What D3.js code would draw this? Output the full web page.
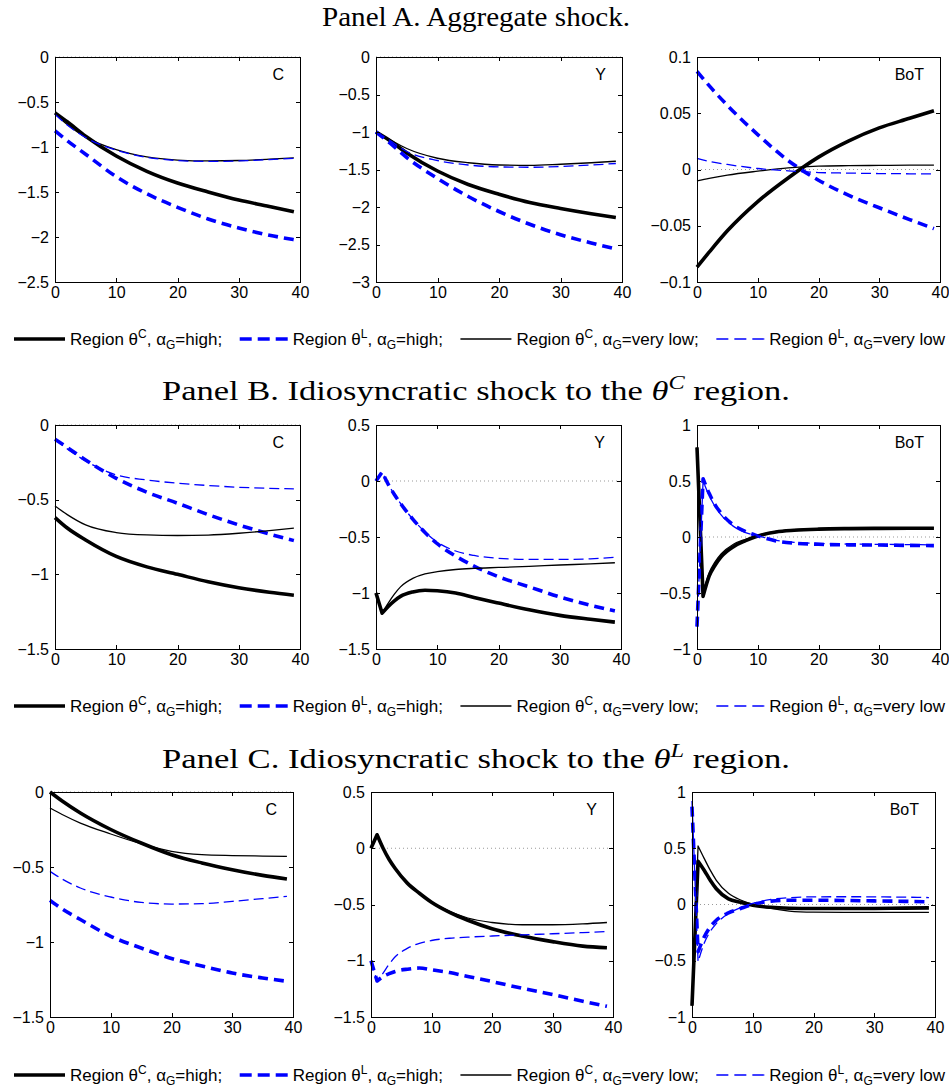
<!DOCTYPE html>
<html><head><meta charset="utf-8">
<script src="https://cdn.jsdelivr.net/npm/d3@7/dist/d3.min.js"></script>
<style>body{margin:0;background:#fff}svg{display:block}</style>
</head><body>
<svg id="chart" width="949" height="1089"></svg>
<script>
// ---------------- DATA ----------------
const tSmooth = [0,2,5,10,15,20,25,30,35,39];
const tSpike  = [0,1,2,3,4,6,8,10,13,16,20,25,30,35,39];
const xTicks = [0,10,20,30,40];
const variables = ["C","Y","BoT"];
const seriesLabels = [
  {region:"C", alpha:"high;"},
  {region:"L", alpha:"high;"},
  {region:"C", alpha:"very low;"},
  {region:"L", alpha:"very low"}
];
const panelTitles = [
  {text:"Panel A. Aggregate shock.", theta:null},
  {text:"Panel B. Idiosyncratic shock to the ", theta:"C", tail:" region."},
  {text:"Panel C. Idiosyncratic shock to the ", theta:"L", tail:" region."}
];
// y tick values per panel / variable
const yTicksA = [[-2.5,-2,-1.5,-1,-0.5,0],[-3,-2.5,-2,-1.5,-1,-0.5,0],[-0.1,-0.05,0,0.05,0.1]];
const yTicksB = [[-1.5,-1,-0.5,0],[-1.5,-1,-0.5,0,0.5],[-1,-0.5,0,0.5,1]];
const yTicksC = [[-1.5,-1,-0.5,0],[-1.5,-1,-0.5,0,0.5],[-1,-0.5,0,0.5,1]];

// Panel A (time grid tSmooth)
const aC_thickC = [-0.62,-0.72,-0.88,-1.10,-1.27,-1.40,-1.50,-1.59,-1.66,-1.72];
const aC_thickL = [-0.82,-0.93,-1.08,-1.33,-1.52,-1.67,-1.80,-1.90,-1.98,-2.03];
const aC_thinC  = [-0.63,-0.75,-0.89,-1.03,-1.11,-1.145,-1.155,-1.15,-1.135,-1.12];
const aC_thinL  = [-0.635,-0.755,-0.895,-1.035,-1.115,-1.15,-1.16,-1.155,-1.14,-1.125];

const aY_thickC = [-1.0,-1.10,-1.28,-1.52,-1.70,-1.83,-1.94,-2.02,-2.09,-2.14];
const aY_thickL = [-1.0,-1.13,-1.34,-1.62,-1.86,-2.06,-2.23,-2.37,-2.48,-2.56];
const aY_thinC  = [-1.0,-1.09,-1.22,-1.35,-1.41,-1.44,-1.445,-1.43,-1.41,-1.39];
const aY_thinL  = [-1.0,-1.10,-1.26,-1.38,-1.44,-1.465,-1.47,-1.46,-1.44,-1.42];

const aB_thickC = [-0.0868,-0.0735,-0.0545,-0.0285,-0.0075,0.011,0.0255,0.037,0.0455,0.0523];
const aB_thickL = [0.0872,0.0745,0.057,0.031,0.008,-0.0095,-0.023,-0.034,-0.0445,-0.0526];
const aB_thinC  = [-0.0101,-0.0078,-0.005,-0.0015,0.0015,0.003,0.0034,0.0036,0.0038,0.0039];
const aB_thinL  = [0.0098,0.0072,0.0045,0.0009,-0.0012,-0.0027,-0.0032,-0.0036,-0.0038,-0.0039];

// Panel B
const bC_thickC = [-0.62,-0.69,-0.77,-0.88,-0.95,-1.00,-1.05,-1.09,-1.12,-1.14];
const bC_thickL = [-0.096,-0.15,-0.234,-0.357,-0.45,-0.524,-0.60,-0.669,-0.73,-0.774];
const bC_thinC  = [-0.542,-0.60,-0.669,-0.72,-0.736,-0.74,-0.737,-0.725,-0.707,-0.69];
const bC_thinL  = [-0.096,-0.16,-0.24,-0.334,-0.368,-0.39,-0.405,-0.417,-0.424,-0.428];

const bY_thickC = [-1.0,-1.18,-1.12,-1.07,-1.03,-0.99,-0.975,-0.98,-1.00,-1.04,-1.09,-1.15,-1.20,-1.235,-1.26];
const bY_thickL = [0,0.08,-0.03,-0.12,-0.20,-0.34,-0.46,-0.56,-0.67,-0.76,-0.855,-0.945,-1.035,-1.11,-1.16];
const bY_thinC  = [-1.0,-1.18,-1.09,-1.01,-0.945,-0.87,-0.83,-0.81,-0.79,-0.78,-0.772,-0.762,-0.75,-0.74,-0.73];
const bY_thinL  = [0,0.08,-0.03,-0.12,-0.20,-0.34,-0.455,-0.545,-0.625,-0.665,-0.69,-0.70,-0.70,-0.695,-0.68];

const bB_thickC = [0.80,-0.53,-0.35,-0.25,-0.175,-0.086,-0.033,0.009,0.045,0.06,0.07,0.075,0.077,0.078,0.078];
const bB_thickL = [-0.80,0.52,0.39,0.285,0.21,0.107,0.048,0.01,-0.035,-0.055,-0.065,-0.07,-0.072,-0.075,-0.077];
const bB_thinC  = [0.80,-0.50,-0.32,-0.22,-0.15,-0.065,-0.02,0.015,0.05,0.065,0.075,0.079,0.08,0.081,0.081];
const bB_thinL  = [-0.80,0.50,0.37,0.27,0.195,0.095,0.04,0.012,-0.03,-0.048,-0.058,-0.063,-0.066,-0.068,-0.07];

// Panel C
const cC_thickC = [0,-0.06,-0.14,-0.25,-0.34,-0.418,-0.473,-0.518,-0.556,-0.58];
const cC_thickL = [-0.722,-0.78,-0.85,-0.962,-1.04,-1.11,-1.16,-1.207,-1.24,-1.262];
const cC_thinC  = [-0.107,-0.15,-0.207,-0.28,-0.345,-0.396,-0.418,-0.424,-0.427,-0.429];
const cC_thinL  = [-0.529,-0.58,-0.64,-0.70,-0.736,-0.747,-0.744,-0.729,-0.711,-0.696];

const cY_thickC = [0,0.12,0.0,-0.10,-0.18,-0.31,-0.40,-0.48,-0.57,-0.64,-0.715,-0.78,-0.83,-0.87,-0.885];
const cY_thickL = [-1.0,-1.18,-1.14,-1.115,-1.095,-1.075,-1.065,-1.08,-1.105,-1.14,-1.185,-1.245,-1.30,-1.36,-1.405];
const cY_thinC  = [0,0.12,0.0,-0.10,-0.175,-0.305,-0.395,-0.475,-0.56,-0.62,-0.66,-0.68,-0.68,-0.672,-0.66];
const cY_thinL  = [-1.0,-1.18,-1.11,-1.03,-0.965,-0.89,-0.845,-0.82,-0.80,-0.79,-0.78,-0.77,-0.76,-0.75,-0.74];

const cB_thickC = [-0.9,0.385,0.305,0.215,0.14,0.05,0.02,-0.006,-0.025,-0.033,-0.036,-0.036,-0.035,-0.032,-0.03];
const cB_thickL = [0.87,-0.42,-0.29,-0.2,-0.14,-0.075,-0.036,0,0.03,0.038,0.038,0.036,0.032,0.028,0.024];
const cB_thinC  = [-0.9,0.52,0.41,0.305,0.215,0.10,0.04,0.003,-0.035,-0.058,-0.068,-0.07,-0.07,-0.07,-0.07];
const cB_thinL  = [0.92,-0.51,-0.345,-0.24,-0.17,-0.08,-0.027,0.009,0.045,0.06,0.068,0.069,0.068,0.065,0.062];

// ---------------- LAYOUT / STYLE ----------------
const styles = [
  {color:"#000", width:3.6, dash:null, legLen:51},
  {color:"#0000ff", width:3.6, dash:"12,6", legLen:48},
  {color:"#000", width:1.3, dash:null, legLen:51},
  {color:"#0000ff", width:1.3, dash:"12,6", legLen:48}
];
const lineDash = ["", "10,6", "", "10,5"];
const panels = [
  {title:panelTitles[0], titleY:26, titleSize:27, titleLen:308, top:57, bottom:282, cols:[[55,300],[376,622],[697,940]], legendY:339,
   yTicks:yTicksA, t:[tSmooth,tSmooth,tSmooth],
   data:[[aC_thickC,aC_thickL,aC_thinC,aC_thinL],[aY_thickC,aY_thickL,aY_thinC,aY_thinL],[aB_thickC,aB_thickL,aB_thinC,aB_thinL]]},
  {title:panelTitles[1], titleY:400, titleSize:27, titleLen:628, top:425, bottom:649, cols:[[55,300],[376,621],[697,940]], legendY:706,
   yTicks:yTicksB, t:[tSmooth,tSpike,tSpike],
   data:[[bC_thickC,bC_thickL,bC_thinC,bC_thinL],[bY_thickC,bY_thickL,bY_thinC,bY_thinL],[bB_thickC,bB_thickL,bB_thinC,bB_thinL]]},
  {title:panelTitles[2], titleY:768, titleSize:27, titleLen:628, top:792, bottom:1017, cols:[[50,293],[371,613],[692,935]], legendY:1075,
   yTicks:yTicksC, t:[tSmooth,tSpike,tSpike],
   data:[[cC_thickC,cC_thickL,cC_thinC,cC_thinL],[cY_thickC,cY_thickL,cY_thinC,cY_thinL],[cB_thickC,cB_thickL,cB_thinC,cB_thinL]]}
];

const svg = d3.select("#chart");
const SANS = "'Liberation Sans', Arial, Helvetica, sans-serif";
const SERIF = "'Liberation Serif', 'Times New Roman', serif";
const fmt = v => String(+v.toFixed(3)).replace("-", "\u2212");

panels.forEach(p => {
  // title
  const tt = svg.append("text").attr("x", 476).attr("y", p.titleY)
    .attr("text-anchor","middle").attr("font-family", SERIF).attr("font-size", p.titleSize).attr("fill","#000")
    .attr("textLength", p.titleLen).attr("lengthAdjust","spacingAndGlyphs");
  tt.append("tspan").text(p.title.text);
  if (p.title.theta) {
    tt.append("tspan").attr("font-style","italic").text("\u03b8");
    tt.append("tspan").attr("font-style","italic").attr("font-size",Math.round(p.titleSize*0.7)).attr("dy",-11).text(p.title.theta);
    tt.append("tspan").attr("dy",11).text(p.title.tail);
  }

  p.cols.forEach((c, j) => {
    const ticks = p.yTicks[j];
    const x = d3.scaleLinear().domain([0,40]).range([c[0], c[1]]);
    const y = d3.scaleLinear().domain([ticks[0], ticks[ticks.length-1]]).range([p.bottom, p.top]);
    const g = svg.append("g");

    // zero dotted line
    g.append("line").attr("x1", x(0)).attr("x2", x(40)).attr("y1", y(0)).attr("y2", y(0))
      .attr("stroke","#999").attr("stroke-width",1).attr("stroke-dasharray","1,3");

    // series
    const tArr = p.t[j];
    const spike = tArr[1] === 1;
    p.data[j].forEach((vals, k) => {
      const s = styles[k];
      let d;
      if (spike) {
        // straight jump from t=0 to t=1, smooth afterwards
        const rest = d3.line().x((v,i)=>x(tArr[i+1])).y(v=>y(v)).curve(d3.curveMonotoneX)(vals.slice(1));
        d = `M${x(tArr[0])},${y(vals[0])}L` + rest.slice(1);
      } else {
        d = d3.line().x((v,i)=>x(tArr[i])).y(v=>y(v)).curve(d3.curveMonotoneX)(vals);
      }
      g.append("path").attr("d", d).attr("fill","none")
        .attr("stroke", s.color).attr("stroke-width", s.width)
        .attr("stroke-dasharray", lineDash[k] || null).attr("stroke-linejoin","round");
    });

    // axes (MATLAB style, inward ticks on all sides)
    const axB = d3.axisBottom(x).tickValues(xTicks).tickSizeInner(-4).tickSizeOuter(0).tickPadding(5).tickFormat(fmt);
    const axT = d3.axisTop(x).tickValues(xTicks).tickSizeInner(-4).tickSizeOuter(0).tickFormat("");
    const axL = d3.axisLeft(y).tickValues(ticks).tickSizeInner(-4).tickSizeOuter(0).tickPadding(6).tickFormat(fmt);
    const axR = d3.axisRight(y).tickValues(ticks).tickSizeInner(-4).tickSizeOuter(0).tickFormat("");
    const styleAx = sel => {
      sel.selectAll("path").attr("fill","none");
      sel.selectAll("path,line").attr("stroke","#000").attr("stroke-width",1).attr("shape-rendering","crispEdges");
      sel.selectAll("text").attr("font-family", SANS).attr("font-size", 16).attr("fill","#000");
    };
    g.append("g").attr("transform",`translate(0,${p.bottom})`).call(axB).call(styleAx);
    g.append("g").attr("transform",`translate(0,${p.top})`).call(axT).call(styleAx);
    g.append("g").attr("transform",`translate(${c[0]},0)`).call(axL).call(styleAx);
    g.append("g").attr("transform",`translate(${c[1]},0)`).call(axR).call(styleAx);

    // variable label
    g.append("text").attr("x", c[1]-16).attr("y", p.top+23).attr("text-anchor","end")
      .attr("font-family", SANS).attr("font-size", 16).attr("fill","#000").text(variables[j]);
  });

  // legend
  const lg = svg.append("g");
  const items = [];
  seriesLabels.forEach((lab, k) => {
    const it = lg.append("g");
    const s = styles[k];
    it.append("line").attr("x1",0).attr("x2",s.legLen)
      .attr("y1",p.legendY).attr("y2",p.legendY)
      .attr("stroke",s.color).attr("stroke-width",s.width).attr("stroke-dasharray",s.dash);
    const tx = it.append("text").attr("x",s.legLen+5).attr("y",p.legendY+6)
      .attr("font-family",SANS).attr("font-size",17).attr("fill","#000");
    tx.append("tspan").text("Region \u03b8");
    tx.append("tspan").attr("font-size",12).attr("dy",-7).text(lab.region);
    tx.append("tspan").attr("dy",7).text(", \u03b1");
    tx.append("tspan").attr("font-size",12).attr("dy",4).text("G");
    tx.append("tspan").attr("dy",-4).text("=" + lab.alpha);
    items.push({g:it, w:s.legLen+5+tx.node().getComputedTextLength()});
  });
  const total = d3.sum(items, d=>d.w);
  const gap = (945-14-total)/3;
  let cx = 14;
  items.forEach(d => { d.g.attr("transform",`translate(${cx},0)`); cx += d.w + gap; });
});
</script>
</body></html>
